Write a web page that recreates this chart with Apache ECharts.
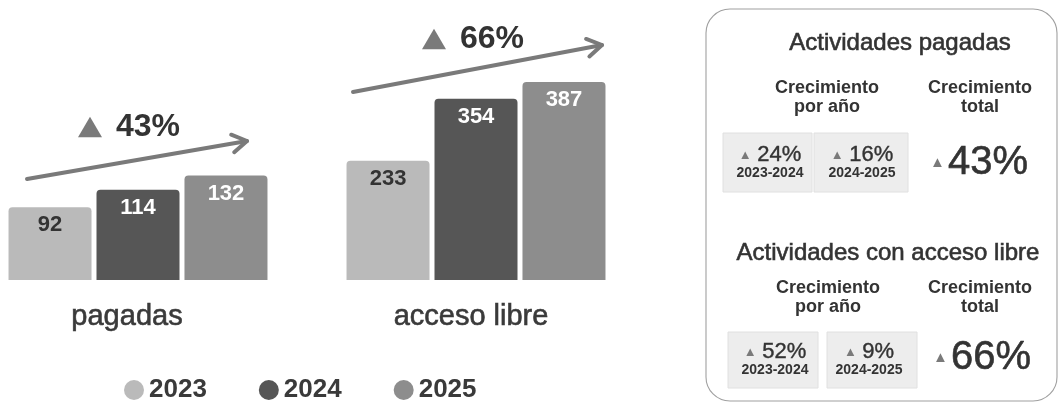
<!DOCTYPE html>
<html>
<head>
<meta charset="utf-8">
<script src="https://cdn.jsdelivr.net/npm/echarts@6/dist/echarts.min.js"></script>
<style>
  html, body { margin: 0; padding: 0; background: #fff; }
  #chart { width: 1061px; height: 405px; }
</style>
</head>
<body>
<div id="chart"></div>
<script>
// datos
const years = ['2023', '2024', '2025'];
const groups = ['pagadas', 'acceso libre'];
const pagadas = [92, 114, 132];
const accesoLibre = [233, 354, 387];
const totalGrowth = ['43%', '66%'];
const yearlyPagadas = ['24%', '16%'];
const yearlyLibre = ['52%', '9%'];
const periods = ['2023-2024', '2024-2025'];
const yearColors = ['#bababa', '#565656', '#8d8d8d'];
const labelColors = ['#333333', '#ffffff', '#ffffff'];

const FONT = '"Liberation Sans", Arial, sans-serif';
const TXT = '#333333';
const ARROW = '#7a7a7a';

var chart = echarts.init(document.getElementById('chart'));

function barSeries(values, gridIdx) {
    return years.map((y, i) => ({
        name: y,
        type: 'bar',
        xAxisIndex: gridIdx,
        yAxisIndex: gridIdx,
        barWidth: 83,
        barGap: '6%',
        data: [values[i]],
        itemStyle: { color: yearColors[i], borderRadius: [4, 4, 0, 0] },
        label: {
            show: true,
            position: 'insideTop',
            distance: 7,
            fontFamily: FONT,
            fontSize: 22,
            fontWeight: 'bold',
            color: labelColors[i]
        }
    }));
}

// flecha con punta
function arrow(x1, y1, x2, y2) {
    const a = Math.atan2(y2 - y1, x2 - x1);
    const len = 17, spread = 0.55;
    const p1 = [x2 - len * Math.cos(a - spread), y2 - len * Math.sin(a - spread)];
    const p2 = [x2 - len * Math.cos(a + spread), y2 - len * Math.sin(a + spread)];
    const st = { stroke: ARROW, lineWidth: 4, lineCap: 'round', lineJoin: 'round', fill: null };
    return [
        { type: 'line', shape: { x1: x1, y1: y1, x2: x2, y2: y2 }, style: st },
        { type: 'polyline', shape: { points: [p1, [x2, y2], p2] }, style: st }
    ];
}

function tri(cx, cy, w) {
    const h = w * 0.85;
    return {
        type: 'polygon',
        shape: { points: [[cx - w / 2, cy + h / 2], [cx + w / 2, cy + h / 2], [cx, cy - h / 2]] },
        style: { fill: ARROW }
    };
}

function txt(x, y, text, size, weight, extra) {
    return {
        type: 'text',
        x: x, y: y,
        style: Object.assign({
            text: text,
            fontFamily: FONT,
            fontSize: size,
            fontWeight: weight || 'normal',
            fill: TXT,
            align: 'center',
            verticalAlign: 'middle'
        }, extra || {})
    };
}

// texto escaneado algo más grueso
const heavy = { stroke: TXT, lineWidth: 0.6 };

function smallGrowth(x, y, value, period) {
    return [
        txt(x, y, '{t|▲} {v|' + value + '}', 20, 'normal', {
            rich: {
                t: { fontSize: 13, fill: ARROW, fontFamily: FONT },
                v: { fontSize: 22, fill: TXT, fontFamily: FONT, stroke: TXT, lineWidth: 0.4 }
            }
        }),
        txt(x, y + 18, period, 14, 'bold')
    ];
}

function bigGrowth(x, y, value) {
    return txt(x, y, '{t|▲}{v|' + value + '}', 40, 'normal', {
        rich: {
            t: { fontSize: 15, fill: ARROW, fontFamily: FONT, padding: [0, 3, 0, 0] },
            v: { fontSize: 40, fill: TXT, fontFamily: FONT, stroke: TXT, lineWidth: 0.6 }
        }
    });
}

const boxStyle = { fill: '#ededed', stroke: '#e0e0e0', lineWidth: 1 };

var graphics = []
    .concat(arrow(27, 179, 247, 141))
    .concat(arrow(353, 92, 602, 45))
    .concat([
        tri(90, 127, 24),
        txt(148, 127, totalGrowth[0], 32, 'bold'),
        tri(434, 39, 24),
        txt(492, 39, totalGrowth[1], 32, 'bold'),

        // panel
        { type: 'rect', shape: { x: 706, y: 9, width: 351, height: 392, r: 24 },
          style: { fill: null, stroke: '#a0a0a0', lineWidth: 1.1 } },

        txt(900, 43, 'Actividades pagadas', 24, 'normal', heavy),
        txt(827, 98, 'Crecimiento\npor año', 18, 'bold', { lineHeight: 19 }),
        txt(980, 98, 'Crecimiento\ntotal', 18, 'bold', { lineHeight: 19 }),
        { type: 'rect', shape: { x: 723, y: 133, width: 89, height: 59 }, style: boxStyle },
        { type: 'rect', shape: { x: 814, y: 133, width: 94, height: 59 }, style: boxStyle },
        bigGrowth(979, 163, totalGrowth[0]),

        txt(888, 253, 'Actividades con acceso libre', 24, 'normal', heavy),
        txt(828, 298, 'Crecimiento\npor año', 18, 'bold', { lineHeight: 19 }),
        txt(980, 298, 'Crecimiento\ntotal', 18, 'bold', { lineHeight: 19 }),
        { type: 'rect', shape: { x: 728, y: 332, width: 90, height: 56 }, style: boxStyle },
        { type: 'rect', shape: { x: 827, y: 332, width: 90, height: 56 }, style: boxStyle },
        bigGrowth(982, 358, totalGrowth[1])
    ])
    .concat(smallGrowth(770, 155, yearlyPagadas[0], periods[0]))
    .concat(smallGrowth(862, 155, yearlyPagadas[1], periods[1]))
    .concat(smallGrowth(775, 352, yearlyLibre[0], periods[0]))
    .concat(smallGrowth(869, 352, yearlyLibre[1], periods[1]));

var option = {
    backgroundColor: '#ffffff',
    animation: false,
    grid: [
        { left: 0, width: 276, top: 0, height: 280, outerBoundsMode: 'none' },
        { left: 338, width: 276, top: 0, height: 280, outerBoundsMode: 'none' }
    ],
    legend: {
        data: years,
        left: 119,
        top: 372,
        icon: 'circle',
        itemWidth: 20,
        itemHeight: 20,
        itemGap: 52,
        textStyle: { fontFamily: FONT, fontSize: 26, fontWeight: 'bold', color: '#3a3a3a' }
    },
    xAxis: groups.map((g, i) => ({
        type: 'category',
        gridIndex: i,
        data: [g],
        axisLine: { show: false },
        axisTick: { show: false },
        axisLabel: {
            margin: 22,
            fontFamily: FONT,
            fontSize: 29,
            color: '#3a3a3a',
            textBorderColor: '#3a3a3a',
            textBorderWidth: 0.6,
            padding: i === 0 ? [0, 22, 0, 0] : [0, 10, 0, 0]
        }
    })),
    yAxis: [
        { type: 'value', gridIndex: 0, min: 0, max: 354, show: false },
        { type: 'value', gridIndex: 1, min: 0, max: 547, show: false }
    ],
    series: barSeries(pagadas, 0).concat(barSeries(accesoLibre, 1)),
    graphic: graphics
};
chart.setOption(option);
</script>
</body>
</html>
